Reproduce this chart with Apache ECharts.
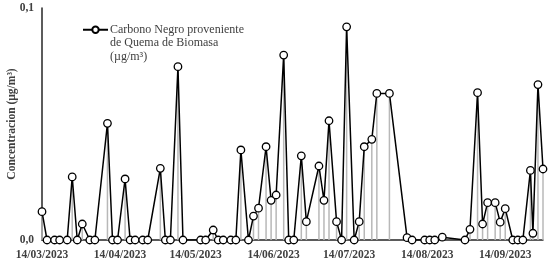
<!DOCTYPE html>
<html><head><meta charset="utf-8">
<script src="https://cdn.jsdelivr.net/npm/echarts@6/dist/echarts.min.js"></script>
<style>html,body{margin:0;padding:0;background:#fff}#c{width:552px;height:264px}</style>
</head><body><div id="c"></div>
<script>
const seriesName = 'Carbono Negro proveniente\nde Quema de Biomasa\n(µg/m³)';
const dates = ['2023-03-14','2023-03-16','2023-03-19','2023-03-21','2023-03-24','2023-03-26','2023-03-28','2023-03-30',
'2023-04-02','2023-04-04','2023-04-09','2023-04-11','2023-04-13','2023-04-16','2023-04-18','2023-04-20','2023-04-23','2023-04-25','2023-04-30',
'2023-05-02','2023-05-04','2023-05-07','2023-05-09','2023-05-16','2023-05-18','2023-05-21','2023-05-23','2023-05-25','2023-05-28','2023-05-30',
'2023-06-01','2023-06-04','2023-06-06','2023-06-08','2023-06-11','2023-06-13','2023-06-15','2023-06-18','2023-06-20','2023-06-22','2023-06-25','2023-06-27',
'2023-07-02','2023-07-04','2023-07-06','2023-07-09','2023-07-11','2023-07-13','2023-07-16','2023-07-18','2023-07-20','2023-07-23','2023-07-25','2023-07-30',
'2023-08-06','2023-08-08','2023-08-13','2023-08-15','2023-08-17','2023-08-20','2023-08-29','2023-08-31',
'2023-09-03','2023-09-05','2023-09-07','2023-09-10','2023-09-12','2023-09-14','2023-09-17','2023-09-19','2023-09-21','2023-09-24','2023-09-25','2023-09-27','2023-09-29'];
const values = [0.0122,0,0,0,0,0.0272,0,0.0069,
0,0,0.0503,0,0,0.0263,0,0,0,0,0.0309,
0,0,0.0747,0,0,0,0.0043,0,0,0,0,
0.0388,0,0.0103,0.0137,0.0402,0.0171,0.0194,0.0797,0,0,0.0363,0.0079,
0.0319,0.0171,0.0514,0.0079,0,0.0919,0,0.0079,0.0402,0.0434,0.0632,0.0632,
0.0010,0,0,0,0,0.0012,0,0.0046,
0.0635,0.0069,0.0161,0.0161,0.0077,0.0135,0,0,0,0.0300,0.0029,0.0670,0.0306];
const xTicks = ['2023-03-14','2023-04-14','2023-05-14','2023-06-14','2023-07-14','2023-08-14','2023-09-14'];
const yTicks = [0, 0.1];
const xMin = '2023-03-14', xMax = '2023-09-29';

const DAY = 86400000;
function dn(s){const p=s.split('-');return Math.round(Date.UTC(+p[0],+p[1]-1,+p[2])/DAY);}
function fmt(n){const d=new Date(n*DAY);const p=k=>String(k).padStart(2,'0');return p(d.getUTCDate())+'/'+p(d.getUTCMonth()+1)+'/'+d.getUTCFullYear();}
const pts = dates.map((d,i)=>[dn(d), values[i]]);
const font = '"Liberation Serif","Times New Roman",serif';
const chart = echarts.init(document.getElementById('c'), null, {renderer:'canvas'});
chart.setOption({
  animation:false,
  grid:{left:42,right:9,top:8,bottom:24,containLabel:false,outerBoundsMode:'none'},
  legend:{
    data:[seriesName], left:77, top:-9, itemWidth:25, itemHeight:8, itemGap:0,
    formatter:name=>' \n \n'+name,
    textStyle:{fontFamily:font,fontSize:12,color:'#404040',lineHeight:13.5,padding:[0,0,0,-3]},
    selectedMode:false
  },
  xAxis:{
    type:'value', min:dn(xMin), max:dn(xMax),
    axisLine:{lineStyle:{color:'#262626',width:1.5}},
    axisTick:{show:false},
    splitLine:{show:false},
    axisLabel:{customValues:xTicks.map(dn), margin:9, fontFamily:font,fontSize:11.5,fontWeight:'bold',color:'#404040',
      formatter:v=>fmt(v), hideOverlap:false}
  },
  yAxis:{
    type:'value', min:yTicks[0], max:yTicks[1], interval:0.1,
    name:'Concentracion (µg/m³)', nameLocation:'middle', nameGap:24, nameMoveOverlap:false,
    nameTextStyle:{fontFamily:font,fontSize:11.5,fontWeight:'bold',color:'#404040'},
    axisLine:{show:true,lineStyle:{color:'#262626',width:1.5}},
    axisTick:{show:false}, splitLine:{show:false},
    axisLabel:{fontFamily:font,fontSize:11.5,fontWeight:'bold',color:'#404040',margin:8,
      formatter:v=>v.toFixed(1).replace('.',',')}
  },
  series:[
    {type:'bar', name:'drop', data:pts, barWidth:1.5, itemStyle:{color:'#b8b8b8'}, z:1, silent:true},
    {type:'line', name:seriesName, data:pts, symbol:'circle', symbolSize:7.5, showAllSymbol:true,
      lineStyle:{color:'#000',width:1.5}, itemStyle:{color:'#fff',borderColor:'#000',borderWidth:1.3}, z:3}
  ]
});
</script></body></html>
